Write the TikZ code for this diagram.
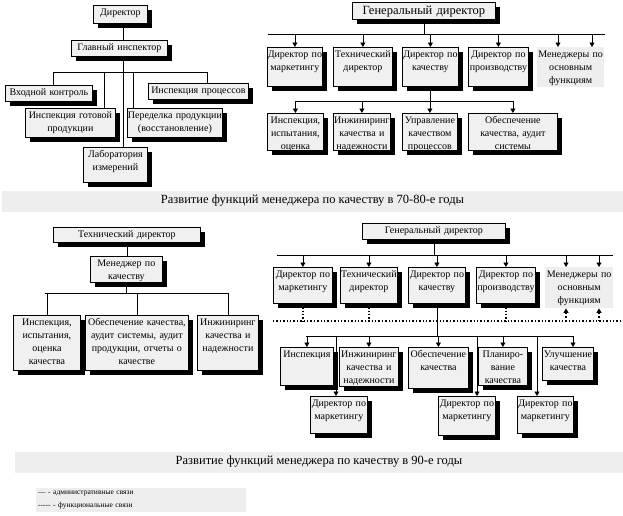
\documentclass[tikz,border=0pt]{standalone}
\usepackage{fontspec}
\setmainfont{Liberation Serif}
\usetikzlibrary{arrows.meta,shadows}
\definecolor{boxfill}{HTML}{F0F0F0}
\definecolor{bandfill}{HTML}{EEEEEE}

\begin{document}
\begin{tikzpicture}[x=1pt, y=-1pt,
  every node/.style={font=\fontsize{10}{13}\selectfont},
  box/.style={draw, line width=0.8pt, fill=boxfill, anchor=north west, align=center,
    inner xsep=0pt, inner ysep=2pt, text height=8pt,
    drop shadow={shadow xshift=5pt, shadow yshift=-5pt, fill=black, opacity=1}},
  mgr/.style={fill=bandfill, anchor=north west, align=center, inner xsep=0pt, inner ysep=2pt, text height=8pt},
  band/.style={fill=bandfill, minimum height=21pt, inner sep=0pt, font=\fontsize{12.5}{15}\selectfont},
  legend/.style={fill=bandfill, anchor=north west, align=left, inner xsep=2pt, inner ysep=3pt,
    text width=206pt, font=\fontsize{7.5}{12.5}\selectfont},
  adm/.style={line width=0.8pt},
  func/.style={line width=1.2pt, dash pattern=on 1.4pt off 2pt},
  >={Triangle[width=5pt,length=4.5pt]}
]
\useasboundingbox (0,0) rectangle (623,515);

% 70-80-е годы, слева
\node[box, text width=54pt, text depth=6pt] (dir) at (93,5) {Директор};
\node[box, text width=96pt, text depth=4pt] (ginsp) at (71,40) {Главный инспектор};
\node[box, text width=87pt, text depth=4pt] (vhod) at (5,85) {Входной контроль};
\node[box, text width=90pt, text depth=17pt] (gotov) at (25,108) {Инспекция готовой\\продукции};
\node[box, text width=95pt, text depth=17pt] (pered) at (127,108) {Переделка продукции\\(восстановление)};
\node[box, text width=100pt, text depth=4pt] (proc) at (148,83) {Инспекция процессов};
\node[box, text width=64pt, text depth=23pt] (lab) at (83,147) {Лаборатория\\измерений};

\coordinate (trunk) at (123,72);
\coordinate (bus0w) at (53,72);
\coordinate (bus0e) at (207,72);
\coordinate (g0) at (104,72);
\coordinate (p0) at (133,72);
\draw[adm] (dir.south -| trunk) -- (trunk |- ginsp.north);
\draw[adm] (trunk |- ginsp.south) -- (trunk |- lab.north);
\draw[adm] (bus0w) -- (bus0e);
\draw[adm] (bus0w) -- (bus0w |- vhod.north);
\draw[adm] (g0) -- (g0 |- gotov.north);
\draw[adm] (p0) -- (p0 |- pered.north);
\draw[adm] (bus0e) -- (bus0e |- proc.north);

% 70-80-е годы, справа
\node[box, text width=143pt, text height=10pt, text depth=3pt, font=\fontsize{12.5}{15}\selectfont] (gen1) at (352,2) {Генеральный директор};
\node[box, text width=55pt, text depth=27pt] (m1) at (267,47) {Директор по\\маркетингу};
\node[box, text width=59pt, text depth=27pt] (t1) at (333,47) {Технический\\директор};
\node[box, text width=56pt, text depth=27pt] (q1) at (402,47) {Директор по\\качеству};
\node[box, text width=60pt, text depth=27pt] (p1) at (468,47) {Директор по\\производству};
\node[mgr, text width=67pt, text depth=28pt] (f1) at (537,47) {Менеджеры по\\основным\\функциям};
\node[box, text width=56pt, text depth=25pt] (i1) at (267,113) {Инспекция,\\испытания,\\оценка};
\node[box, text width=57pt, text depth=25pt] (e1) at (333,113) {Инжиниринг\\качества и\\надежности};
\node[box, text width=55pt, text depth=25pt] (u1) at (402,113) {Управление\\качеством\\процессов};
\node[box, text width=89pt, text depth=25pt] (o1) at (468,113) {Обеспечение\\качества, аудит\\системы};

\coordinate (bus1w) at (268,34);
\coordinate (bus1e) at (605,34);
\coordinate (f1a) at (558,34);
\coordinate (f1b) at (592,34);
\draw[adm] (bus1w) -- (bus1e);
\draw[adm] (gen1.south) -- (gen1.south |- bus1w);
\foreach \n in {m1,t1,q1,p1}
  \draw[adm,->] (\n.north |- bus1w) -- (\n.north);
\draw[adm,->] (f1a) -- (f1a |- f1.north);
\draw[adm,->] (f1b) -- (f1b |- f1.north);

\coordinate (bus2w) at (295,101);
\coordinate (bus2e) at (513,101);
\draw[adm] (bus2w) -- (bus2e);
\draw[adm] (q1.south) -- (q1.south |- bus2w);
\foreach \n in {i1,e1,u1,o1}
  \draw[adm,->] (\n.north |- bus2w) -- (\n.north);

\node[band, minimum width=621pt] (cap1) at (312.5,201) {Развитие функций менеджера по качеству в 70-80-е годы};

% 90-е годы, слева
\node[box, text width=147pt, text depth=3pt] (td) at (53,227) {Технический директор};
\node[box, text width=72pt, text depth=14pt] (mq) at (90,256) {Менеджер по\\качеству};
\node[box, text width=67pt, text depth=43pt] (iq) at (13,315) {Инспекция,\\испытания,\\оценка\\качества};
\node[box, text width=103pt, text depth=43pt] (oq) at (85,315) {Обеспечение качества,\\аудит системы, аудит\\продукции, отчеты о\\качестве};
\node[box, text width=61pt, text depth=43pt] (eq) at (197,315) {Инжиниринг\\качества и\\надежности};

\coordinate (bus3w) at (45,293);
\coordinate (bus3e) at (229,293);
\draw[adm] (td.south) -- (td.south |- mq.north);
\draw[adm] (mq.south) -- (mq.south |- bus3w);
\draw[adm] (bus3w) -- (bus3e);
\foreach \n in {iq,oq,eq}
  \draw[adm] (\n.north |- bus3w) -- (\n.north);

% 90-е годы, справа
\node[box, text width=143pt, text depth=4pt] (gen2) at (362,223) {Генеральный директор};
\node[box, text width=59pt, text depth=24pt] (m2) at (273,267) {Директор по\\маркетингу};
\node[box, text width=57pt, text depth=24pt] (t2) at (340,267) {Технический\\директор};
\node[box, text width=57pt, text depth=24pt] (q2) at (408,267) {Директор по\\качеству};
\node[box, text width=59pt, text depth=24pt] (p2) at (476,267) {Директор по\\производству};
\node[mgr, text width=68pt, text depth=29pt] (f2) at (545,267) {Менеджеры по\\основным\\функциям};
\node[box, text width=53pt, text depth=26pt] (in3) at (280,347) {Инспекция};
\node[box, text width=59pt, text depth=27pt] (e3) at (339,347) {Инжиниринг\\качества и\\надежности};
\node[box, text width=60pt, text depth=29pt] (o3) at (408,347) {Обеспечение\\качества};
\node[box, text width=49pt, text depth=26pt] (pl3) at (478,347) {Планиро-\\вание\\качества};
\node[box, text width=51pt, text depth=21pt] (u3) at (542,347) {Улучшение\\качества};
\node[box, text width=57pt, text depth=25pt] (d1) at (310,396) {Директор по\\маркетингу};
\node[box, text width=57pt, text depth=27pt] (d2) at (438,396) {Директор по\\маркетингу};
\node[box, text width=56pt, text depth=25pt] (d3) at (517,396) {Директор по\\маркетингу};

\coordinate (bus4w) at (277,255);
\coordinate (bus4e) at (613,255);
\coordinate (f2a) at (566,255);
\coordinate (f2b) at (599,255);
\draw[adm] (bus4w) -- (bus4e);
\draw[adm] (gen2.south) -- (gen2.south |- bus4w);
\foreach \n in {m2,t2,q2,p2}
  \draw[adm,->] (\n.north |- bus4w) -- (\n.north);
\draw[adm,->] (f2a) -- (f2a |- f2.north);
\draw[adm,->] (f2b) -- (f2b |- f2.north);

\coordinate (dotw) at (273,321);
\coordinate (dote) at (623,321);
\draw[func] (dotw) -- (dote);
\foreach \n in {m2,t2,p2}
  \draw[func] (\n.south) -- (\n.south |- dotw);
\draw[func,->] (f2a |- dotw) -- (f2a |- f2.south);
\draw[func,->] (f2b |- dotw) -- (f2b |- f2.south);

\coordinate (bus5w) at (306,336);
\coordinate (bus5e) at (573,336);
\coordinate (k1) at (336,336);
\coordinate (k2) at (477,336);
\coordinate (k3) at (537,336);
\draw[adm] (q2.south) -- (q2.south |- bus5w);
\draw[adm] (bus5w) -- (bus5e);
\foreach \n in {in3,e3,o3,pl3}
  \draw[adm,->] (\n.north |- bus5w) -- (\n.north);
\draw[adm,->] (bus5e) -- (bus5e |- u3.north);
\draw[adm,->] (k1) -- (k1 |- d1.north);
\draw[adm,->] (k2) -- (k2 |- d2.north);
\draw[adm,->] (k3) -- (k3 |- d3.north);

\node[band, minimum width=608pt] (cap2) at (319,462) {Развитие функций менеджера по качеству в 90-е годы};

\node[legend] (leg) at (36,488) {— - административные связи\\\mbox{-}\mbox{-}\mbox{-}\mbox{-}\mbox{-} - функциональные связи};
\end{tikzpicture}
\end{document}
